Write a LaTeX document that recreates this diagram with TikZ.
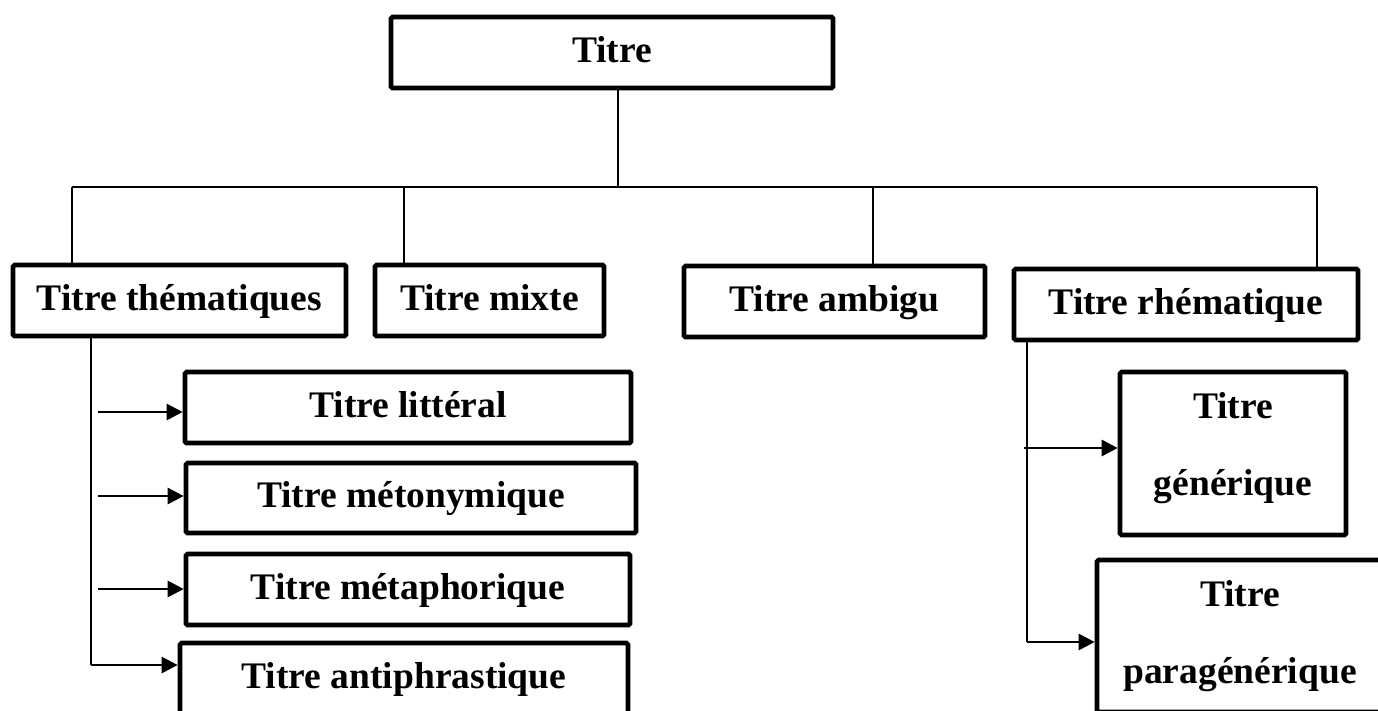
\documentclass[tikz,border=0pt]{standalone}
\usepackage{fontspec}
\setmainfont{Liberation Serif}
\usetikzlibrary{arrows.meta}
\tikzset{
  box/.style={draw, line width=4.6pt, rounded corners=1.5pt, inner sep=0pt, align=center,
    text height=27pt, text depth=8pt,
    font=\fontsize{37.5}{77}\selectfont\bfseries},
  conn/.style={line width=1.8pt},
  arr/.style={line width=2.8pt, -{Triangle[length=16pt,width=16pt]}},
}
\begin{document}
\begin{tikzpicture}[x=1pt,y=-1pt]
\useasboundingbox (0,0) rectangle (1378,710);
\clip (0,0) rectangle (1378,710);
\fill[white] (0,0) rectangle (1378,710);
% boxes
\node[box, minimum width=442pt, minimum height=71pt] (top) at (612,52.5) {Titre};
\node[box, minimum width=333pt, minimum height=71pt] (them) at (179.5,300.5) {Titre thématiques};
\node[box, minimum width=229pt, minimum height=71pt] (mix) at (489.5,300.5) {Titre mixte};
\node[box, minimum width=301pt, minimum height=71pt] (amb) at (834.5,301.5) {Titre ambigu};
\node[box, minimum width=344pt, minimum height=71pt] (rhem) at (1186,304.5) {Titre rhématique};
\node[box, minimum width=446pt, minimum height=71pt] (lit) at (408,407.5) {Titre littéral};
\node[box, minimum width=450pt, minimum height=70pt] (meto) at (411,498) {Titre métonymique};
\node[box, minimum width=444pt, minimum height=71pt] (meta) at (408,589.5) {Titre métaphorique};
\node[box, minimum width=448pt, minimum height=71pt] (anti) at (404,678.5) {Titre antiphrastique};
\node[box, text height=104pt, text depth=21pt, minimum width=226pt, minimum height=163pt] (gen) at (1233,453.5) {Titre\\générique};
\node[box, text height=104pt, text depth=10pt, minimum width=286pt, minimum height=152pt] (para) at (1240,636) {Titre\\paragénérique};
% top tree
\coordinate (hl) at (72,187);
\coordinate (hr) at (1317,187);
\coordinate (hm) at (618,187);
\draw[conn] (top.south -| hm) -- (hm);
\draw[conn] (hl) -- (hr);
\draw[conn] (hl) -- (hl |- them.north);
\draw[conn] (404,187) -- (404,0 |- mix.north);
\draw[conn] (873,187) -- (873,0 |- amb.north);
\draw[conn] (hr) -- (hr |- rhem.north);
% left branch
\coordinate (tv) at (91,665);
\draw[conn] (tv |- them.south) -- (tv);
\draw[arr] (tv) -- (tv -| anti.west);
\coordinate (a1) at (98,412);
\coordinate (a2) at (98,496);
\coordinate (a3) at (98,589);
\draw[arr] (a1) -- (a1 -| lit.west);
\draw[arr] (a2) -- (a2 -| meto.west);
\draw[arr] (a3) -- (a3 -| meta.west);
% right branch
\coordinate (rv) at (1027,642);
\draw[conn] (rv |- rhem.south) -- (rv);
\draw[arr] (rv) -- (rv -| para.west);
\coordinate (g1) at (1024,448);
\draw[arr] (g1) -- (g1 -| gen.west);
\end{tikzpicture}
\end{document}
